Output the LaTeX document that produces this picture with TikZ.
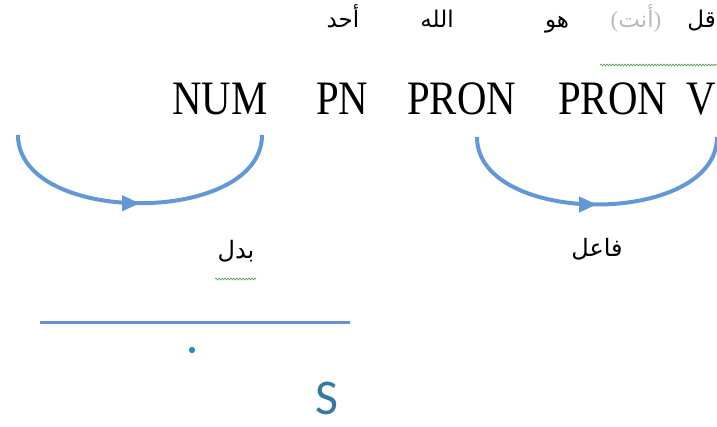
\documentclass[tikz,border=0pt]{standalone}
\usepackage{fontspec}
\setmainfont{Liberation Serif}
\newfontfamily\arabicfont[Script=Arabic]{DejaVu Sans}
\newfontfamily\latinparen{Liberation Serif}
\newfontfamily\posfont[FakeStretch=0.85]{Liberation Serif}
\newfontfamily\carlitofont{Carlito}
\TeXXeTstate=1
\usetikzlibrary{arrows.meta,decorations.markings,decorations.pathmorphing}
\definecolor{arcblue}{RGB}{98,152,214}
\definecolor{lineblue}{RGB}{100,145,210}
\definecolor{dotblue}{RGB}{40,140,200}
\definecolor{sblue}{RGB}{52,122,160}
\definecolor{wavegreen}{RGB}{80,160,80}
\begin{document}
\begin{tikzpicture}[x=1pt,y=-1pt,
  artext/.style={font=\arabicfont\fontsize{23}{25}\selectfont, inner sep=0pt, anchor=base},
  arlabel/.style={font=\arabicfont\fontsize{24}{26}\selectfont, inner sep=0pt, anchor=base},
  postag/.style={font=\posfont\fontsize{48}{50}\selectfont, inner sep=0pt, anchor=base west},
  deparc/.style={color=arcblue, line width=4pt, postaction=decorate,
    decoration={markings, mark=at position 0.5 with {\arrow{Triangle[length=18pt,width=15pt]}}}},
  wavy/.style={draw=wavegreen, line width=0.6pt, decorate,
    decoration={snake, amplitude=1pt, segment length=3pt}}]
\useasboundingbox (0,0) rectangle (717,427);
% top Arabic words
\node[artext] (w5) at (343,28) {\beginR أحد\endR};
\node[artext] (w4) at (437,28) {\beginR الله\endR};
\node[artext] (w3) at (557,28) {\beginR هو\endR};
\node[artext, text=gray!55] (w2) at (636,28) {{\latinparen(}\beginR أنت\endR{\latinparen)}};
\node[artext, anchor=base east] (w1) at (716,28) {\beginR قل\endR};
\draw[wavy] (600,65) -- (717,65);
% POS tags
\node[postag] (num) at (172,115) {NUM};
\node[postag] (pn) at (316,115) {PN};
\node[postag] (pron1) at (407,115) {PRON};
\node[postag] (pron2) at (558,115) {PRON};
\node[postag] (v) at (686,115) {V};
% arcs
\coordinate (a1) at (18,135);
\coordinate (a2) at (262,135);
\coordinate (b1) at (477,137);
\coordinate (b2) at (717,137);
\draw[deparc] (a1) .. controls (18,226) and (262,226) .. (a2);
\draw[deparc] (b1) .. controls (477,227) and (717,227) .. (b2);
% labels
\node[arlabel] (badal) at (236,259) {\beginR بدل\endR};
\draw[wavy] (215,279) -- (256,279);
\node[arlabel] (fail) at (597,257) {\beginR فاعل\endR};
% line, dot, S
\coordinate (l1) at (40,323);
\coordinate (l2) at (350,323);
\draw[lineblue, line width=3pt] (l1) -- (l2);
\fill[dotblue] (192,350) circle (3.2pt);
\node[font=\carlitofont\fontsize{50}{52}\selectfont, text=sblue, inner sep=0pt] (s) at (327,398) {S};
\end{tikzpicture}
\end{document}
